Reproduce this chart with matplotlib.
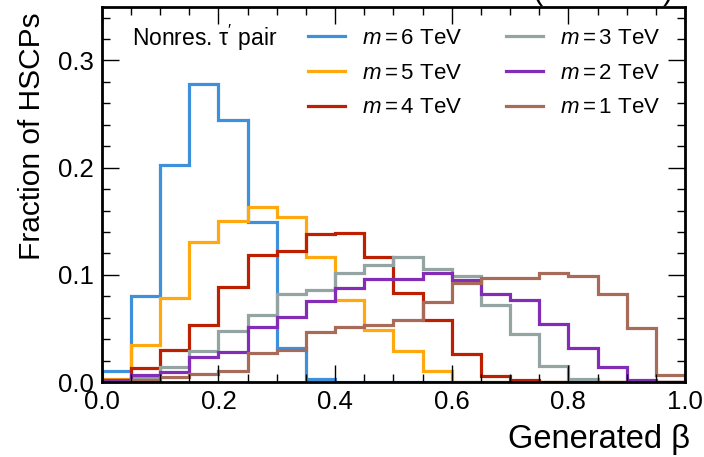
import numpy as np
import matplotlib
matplotlib.use("Agg")
import matplotlib.pyplot as plt
from matplotlib.ticker import MultipleLocator

edges = np.linspace(0.0, 1.0, 21)
labels = ["$m = 6$ TeV", "$m = 5$ TeV", "$m = 4$ TeV", "$m = 3$ TeV", "$m = 2$ TeV", "$m = 1$ TeV"]
colors = ["#3f90da", "#ffa90e", "#bd1f01", "#94a4a2", "#832db6", "#a96b59"]

m6 = [0.0106, 0.080, 0.2028, 0.2776, 0.2442, 0.149, 0.0315, 0.0025, 0, 0,
      0, 0, 0, 0, 0, 0, 0, 0, 0, 0]
m5 = [0.003, 0.0346, 0.078, 0.131, 0.150, 0.163, 0.1536, 0.1165, 0.077, 0.0486,
      0.0293, 0.0103, 0, 0, 0, 0, 0, 0, 0, 0]
m4 = [0.002, 0.0128, 0.030, 0.053, 0.0885, 0.1187, 0.1224, 0.138, 0.139, 0.117,
      0.0835, 0.058, 0.026, 0.006, 0.0016, 0.0003, 0, 0, 0, 0]
m3 = [0.001, 0.004, 0.0143, 0.029, 0.048, 0.0626, 0.082, 0.086, 0.1016, 0.109,
      0.1168, 0.1056, 0.099, 0.0717, 0.045, 0.015, 0.0025, 0.0003, 0, 0]
m2 = [0.0015, 0.0065, 0.009, 0.023, 0.0283, 0.0517, 0.0604, 0.0757, 0.0882, 0.096,
      0.096, 0.102, 0.0953, 0.082, 0.0766, 0.054, 0.0315, 0.0137, 0.002, 0.0002]
m1 = [0.0005, 0.0015, 0.005, 0.0078, 0.0106, 0.0268, 0.030, 0.0464, 0.051, 0.053,
      0.058, 0.075, 0.092, 0.097, 0.097, 0.1016, 0.099, 0.082, 0.0508, 0.0065]
series = [m6, m5, m4, m3, m2, m1]

plt.rcParams['font.family'] = ['Liberation Sans', 'DejaVu Sans']
plt.rcParams['mathtext.fontset'] = 'custom'
plt.rcParams['mathtext.rm'] = 'Liberation Sans'
plt.rcParams['mathtext.it'] = 'Liberation Sans:italic'

fig = plt.figure(figsize=(7.04, 4.57), dpi=100)
ax = fig.add_axes([0.1445, 0.164, 0.8285, 0.821])

for vals, lab, c in zip(series, labels, colors):
    ax.stairs(vals, edges, color=c, lw=2.3, label=lab)

ax.set_xlim(0, 1)
ax.set_ylim(0, 0.35)
ax.xaxis.set_major_locator(MultipleLocator(0.2))
ax.xaxis.set_minor_locator(MultipleLocator(0.05))
ax.yaxis.set_major_locator(MultipleLocator(0.1))
ax.yaxis.set_minor_locator(MultipleLocator(0.02))
ax.tick_params(which='both', direction='in', top=True, right=True, width=1.0)
ax.tick_params(which='major', length=12, labelsize=18.5, pad=6)
ax.tick_params(which='minor', length=6)
for s in ax.spines.values():
    s.set_linewidth(2.0)

ax.set_xlabel("Generated β", fontsize=23.5, loc='right')
ax.set_ylabel("Fraction of HSCPs", fontsize=21.5, loc='top')
ax.yaxis.set_label_coords(-0.096, 0.985)
ax.xaxis.set_label_coords(1.009, -0.112)

ax.text(0.052, 0.917, "Nonres. τ$^{\\prime}$ pair", transform=ax.transAxes, fontsize=16.5,
        ha='left', va='center')
ax.legend(ncol=2, loc='upper left', bbox_to_anchor=(0.354, 0.944), frameon=False,
          fontsize=16, handlelength=1.67, columnspacing=1.95, labelspacing=0.62,
          handletextpad=0.77, borderpad=0, borderaxespad=0)

fig.text(0.957, 1.003, "(13.6 TeV)", fontsize=22, ha='right', va='baseline')

fig.savefig("out.png", dpi=100)
